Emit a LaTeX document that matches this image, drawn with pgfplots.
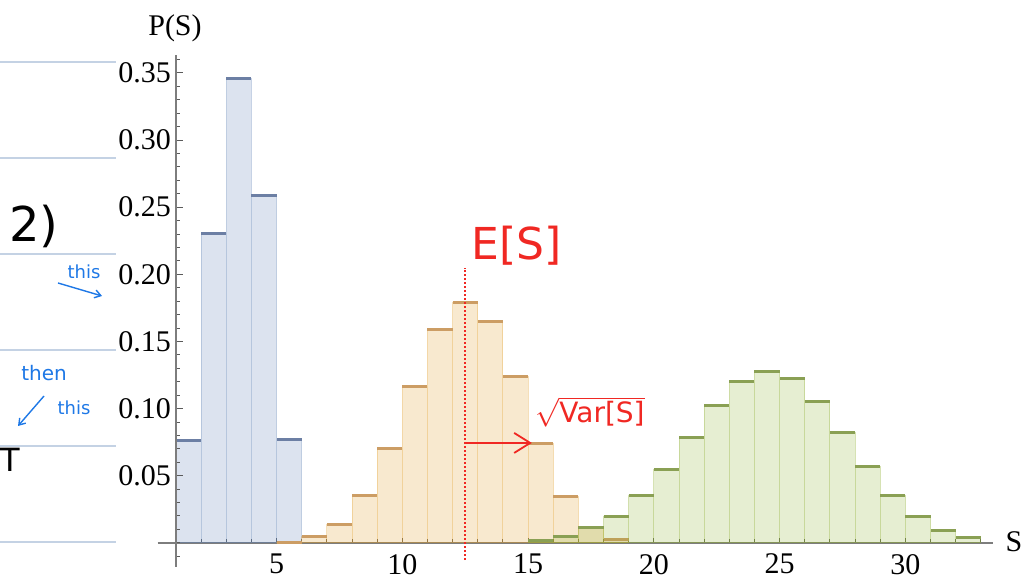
\documentclass[border=0pt]{standalone}
\usepackage{fontspec}
\setmainfont{Liberation Serif}
\newfontfamily\hand{DejaVu Sans}
\usepackage{pgfplots}
\pgfplotsset{compat=1.18}
\usepackage{pgfplotstable}
\usetikzlibrary{arrows.meta}

\definecolor{mblue}{RGB}{94,129,181}
\definecolor{morange}{RGB}{225,156,36}
\definecolor{mgreen}{RGB}{143,176,50}
\definecolor{btop}{RGB}{108,127,164}
\definecolor{otop}{RGB}{204,157,100}
\definecolor{gtop}{RGB}{138,160,84}
\definecolor{axgray}{RGB}{125,125,125}
\definecolor{tkgray}{RGB}{90,90,90}
\definecolor{nbline}{RGB}{196,210,228}
\definecolor{hred}{RGB}{240,40,35}
\definecolor{hblue}{RGB}{30,120,230}

\pgfplotstableread{
x y
1 0.0765
2 0.2308
3 0.3455
4 0.2590
5 0.0774
6 0.0774
}\blueS

\pgfplotstableread{
x y
5 0.0007
6 0.0047
7 0.0141
8 0.0350
9 0.0705
10 0.1167
11 0.1593
12 0.1794
13 0.1653
14 0.1238
15 0.0742
16 0.0345
17 0.0112
18 0.0028
19 0.0028
}\orangeS

\pgfplotstableread{
x y
15 0.0015
16 0.0047
17 0.0117
18 0.0200
19 0.0350
20 0.0550
21 0.0787
22 0.1023
23 0.1200
24 0.1276
25 0.1226
26 0.1057
27 0.0824
28 0.0573
29 0.0355
30 0.0194
31 0.0094
32 0.0040
33 0.0040
}\greenS

\begin{document}
\begin{tikzpicture}
\useasboundingbox (0,0) rectangle (513.5pt,291pt);

% notebook lines on the left
\foreach \yy in {62,158,254,350,446,542}{
  \draw[nbline, line width=0.6pt] (0pt,{(582-\yy)/2*1pt}) -- (58pt,{(582-\yy)/2*1pt});
}

% main axis: data and x axis
\begin{axis}[
  at={(78.8pt,19.5pt)}, anchor=south west,
  scale only axis, width=417.9pt, height=243.75pt,
  xmin=0.27, xmax=33.5, ymin=0, ymax=0.363,
  axis x line=bottom, axis y line=none,
  every outer x axis line/.append style={-},
  every inner x axis line/.append style={-},
  axis line style={-, draw=axgray, line width=0.6pt},
  xtick={5,10,15,20,25,30},
  xticklabels={5,10,15,20,25,30},
  minor xtick={1,2,...,33},
  ytick=\empty,
  tick align=inside,
  major tick length=2.6pt, minor tick length=2pt,
  every tick/.style={draw=tkgray, line width=0.5pt},
  xticklabel style={font=\fontsize{15}{18}\selectfont, yshift=-2pt},
  clip=false,
]
\addplot[ybar interval, fill=mblue, fill opacity=0.22, draw=mblue, draw opacity=0.3, line width=0.5pt] table {\blueS};
\addplot[jump mark left, btop, line width=1.5pt] table {\blueS};
\addplot[ybar interval, fill=morange, fill opacity=0.22, draw=morange, draw opacity=0.3, line width=0.5pt] table {\orangeS};
\addplot[jump mark left, otop, line width=1.5pt] table {\orangeS};
\addplot[ybar interval, fill=mgreen, fill opacity=0.22, draw=mgreen, draw opacity=0.35, line width=0.5pt] table {\greenS};
\addplot[jump mark left, gtop, line width=1.5pt] table {\greenS};

\draw[hred, line width=0.9pt, dash pattern=on 0.9pt off 1.1pt] (axis cs:12.5,-0.0127) -- (axis cs:12.5,0.2048);
\draw[hred, line width=0.9pt, -{Straight Barb[length=8pt,width=10pt]}] (axis cs:12.5,0.0745) -- (axis cs:15.15,0.0745);
\end{axis}

% second axis: y axis at x = 1
\begin{axis}[
  at={(88pt,7.5pt)}, anchor=south west,
  scale only axis, width=408.7pt, height=255.75pt,
  xmin=1, xmax=33.5, ymin=-0.018, ymax=0.363,
  axis y line=left, axis x line=none,
  every outer y axis line/.append style={-},
  every inner y axis line/.append style={-},
  axis line style={-, draw=axgray, line width=0.6pt},
  xtick=\empty,
  ytick={0.05,0.10,0.15,0.20,0.25,0.30,0.35},
  yticklabels={0.05,0.10,0.15,0.20,0.25,0.30,0.35},
  minor ytick={-0.01,0,0.01,0.02,0.03,0.04,0.06,0.07,0.08,0.09,0.11,0.12,0.13,0.14,0.16,0.17,0.18,0.19,0.21,0.22,0.23,0.24,0.26,0.27,0.28,0.29,0.31,0.32,0.33,0.34,0.36},
  tick align=inside,
  major tick length=3.5pt, minor tick length=2pt,
  every tick/.style={draw=tkgray, line width=0.5pt},
  yticklabel style={font=\fontsize{15}{18}\selectfont, xshift=1pt},
]
\end{axis}

% axis labels
\node[font=\fontsize{15}{18}\selectfont] at (87.5pt,277pt) {P(S)};
\node[font=\fontsize{15}{18}\selectfont] at (507pt,20pt) {S};

% red handwritten annotations
\node[hred, font=\hand\fontsize{22}{22}\selectfont] at (258.5pt,168pt) {E[S]};
\node[hred, font=\hand\fontsize{14}{16}\selectfont] at (295pt,85pt) {$\sqrt{\hbox{\hand\fontsize{14}{16}\selectfont Var[S]}}$};

% blue handwritten notes
\node[hblue, font=\hand\fontsize{9}{10}\selectfont] at (42pt,155pt) {this};
\draw[hblue, line width=0.7pt, -{Straight Barb[length=3pt,width=4pt]}] (29pt,149.5pt) -- (51pt,143pt);
\node[hblue, font=\hand\fontsize{10}{11}\selectfont] at (22pt,104.5pt) {then};
\node[hblue, font=\hand\fontsize{9}{10}\selectfont] at (37pt,87pt) {this};
\draw[hblue, line width=0.7pt, -{Straight Barb[length=3pt,width=4pt]}] (22pt,93pt) -- (9pt,78pt);

% black handwritten notes
\node[black, font=\hand\fontsize{24}{24}\selectfont] at (17pt,178pt) {2)};
\node[black, font=\hand\fontsize{16}{16}\selectfont] at (5pt,61pt) {T};
\end{tikzpicture}
\end{document}
